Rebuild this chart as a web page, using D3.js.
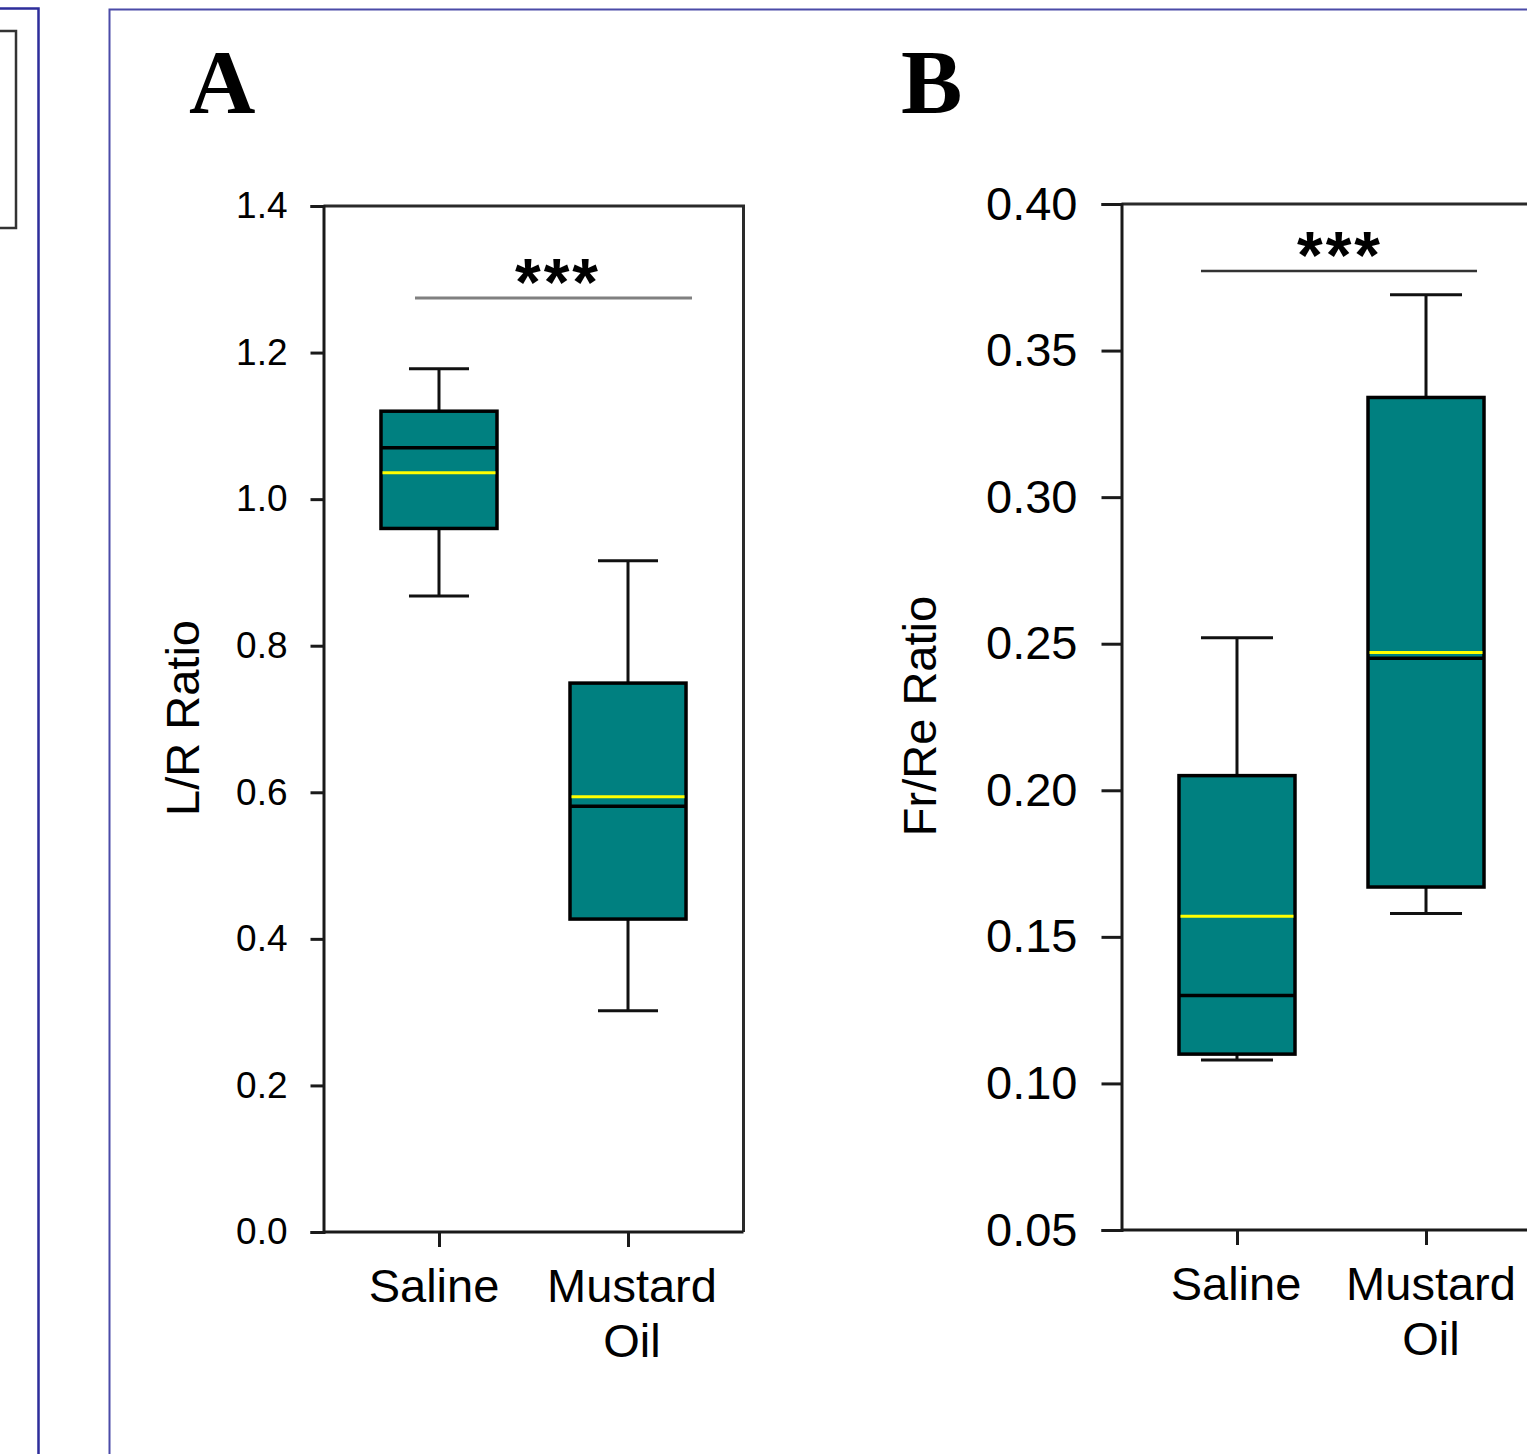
<!DOCTYPE html>
<html>
<head>
<meta charset="utf-8">
<script src="https://cdn.jsdelivr.net/npm/d3@7"></script>
<style>
  body { margin: 0; background: #fff; }
  text { font-family: "Liberation Sans", Arial, sans-serif; fill: #000; }
</style>
</head>
<body>
<div id="chartArea"></div>
<script>
// groups, shared by both panels
const groups = ["Saline", "Mustard Oil"];

// panel A: L/R ratio
const lrLow    = [0.868, 0.302];
const lrQ1     = [0.960, 0.427];
const lrMedian = [1.070, 0.581];
const lrMean   = [1.036, 0.594];
const lrQ3     = [1.120, 0.749];
const lrHigh   = [1.178, 0.916];
const lrTicks  = [0.0, 0.2, 0.4, 0.6, 0.8, 1.0, 1.2, 1.4];

// panel B: Fr/Re ratio
const frLow    = [0.108, 0.158];
const frQ1     = [0.110, 0.167];
const frMedian = [0.130, 0.245];
const frMean   = [0.157, 0.247];
const frQ3     = [0.205, 0.334];
const frHigh   = [0.252, 0.369];
const frTicks  = [0.05, 0.10, 0.15, 0.20, 0.25, 0.30, 0.35, 0.40];

const W = 1527, H = 1454;

const svg = d3.select("#chartArea")
  .append("svg")
  .attr("width", W)
  .attr("height", H);

// slide frames around the figure
svg.append("path")
  .attr("d", "M0,8.5 H38.5 V" + H)
  .attr("fill", "none").attr("stroke", "#2d2d9b").attr("stroke-width", 2.5);
svg.append("rect")
  .attr("x", -5).attr("y", 31).attr("width", 21).attr("height", 197)
  .attr("fill", "none").attr("stroke", "#333").attr("stroke-width", 2.5);
svg.append("path")
  .attr("d", "M" + W + ",9.5 H109.5 V" + H)
  .attr("fill", "none").attr("stroke", "#4b4ba8").attr("stroke-width", 2);

function rows(lo, q1, med, mean, q3, hi){
  return groups.map((g, i) => ({g, lo: lo[i], q1: q1[i], med: med[i], mean: mean[i], q3: q3[i], hi: hi[i]}));
}

function panel(opt){
  const g = svg.append("g");

  const x = d3.scalePoint()
    .domain(groups)
    .range([opt.left, opt.left + 420])
    .padding(0.611);

  const y = d3.scaleLinear()
    .domain(opt.domain)
    .range([opt.bottom, opt.top]);

  const right = opt.left + 420;
  const lw = 3;

  // frame: top and right
  g.append("path")
    .attr("d", "M" + opt.left + "," + opt.top + " H" + right + " V" + opt.bottom)
    .attr("fill", "none").attr("stroke", "#2a2a2a").attr("stroke-width", lw);

  const yAxis = g.append("g")
    .attr("transform", "translate(" + opt.left + ",0)")
    .call(d3.axisLeft(y).tickValues(opt.ticks).tickFormat(d3.format(opt.fmt))
      .tickSize(opt.tickLen).tickPadding(opt.tickPad));
  yAxis.select(".domain").attr("stroke", "#1a1a1a").attr("stroke-width", lw);
  yAxis.selectAll(".tick line").attr("stroke", "#1a1a1a").attr("stroke-width", lw);
  yAxis.selectAll(".tick text")
    .style("font-family", "Liberation Sans, Arial, sans-serif")
    .style("font-size", opt.tickFont + "px").attr("fill", "#000");

  const xAxis = g.append("g")
    .attr("transform", "translate(0," + opt.bottom + ")")
    .call(d3.axisBottom(x).tickSize(15).tickFormat(""));
  xAxis.select(".domain").attr("d", "M" + opt.left + ",0 H" + right)
    .attr("stroke", "#1a1a1a").attr("stroke-width", lw);
  xAxis.selectAll(".tick line").attr("stroke", "#1a1a1a").attr("stroke-width", lw);

  // category labels, two lines for Mustard Oil
  const labelGroups = [["Saline"], ["Mustard", "Oil"]];
  groups.forEach((grp, i) => {
    labelGroups[i].forEach((word, j) => {
      g.append("text")
        .attr("x", x(grp) + opt.labelShift[i])
        .attr("y", opt.bottom + 70 + j * 55)
        .attr("text-anchor", "middle")
        .style("font-size", "47px")
        .text(word);
    });
  });

  // y title
  g.append("text")
    .attr("transform", "translate(" + opt.titleX + "," + opt.titleY + ") rotate(-90)")
    .attr("text-anchor", "middle")
    .style("font-size", "47px")
    .text(opt.title);

  // panel letter
  g.append("text")
    .attr("x", opt.letterX).attr("y", 113)
    .style("font-family", "Liberation Serif, Times New Roman, serif")
    .style("font-weight", "bold")
    .style("font-size", "92px")
    .text(opt.letter);

  const data = opt.data;
  const bw = 116, cw = opt.capW;

  // whiskers
  g.selectAll(".whisker")
    .data(data).enter().append("line")
    .attr("x1", d => x(d.g)).attr("x2", d => x(d.g))
    .attr("y1", d => y(d.lo)).attr("y2", d => y(d.hi))
    .attr("stroke", "#111").attr("stroke-width", lw);
  g.selectAll(".capLo")
    .data(data).enter().append("line")
    .attr("x1", d => x(d.g) - cw / 2).attr("x2", d => x(d.g) + cw / 2)
    .attr("y1", d => y(d.lo)).attr("y2", d => y(d.lo))
    .attr("stroke", "#111").attr("stroke-width", lw);
  g.selectAll(".capHi")
    .data(data).enter().append("line")
    .attr("x1", d => x(d.g) - cw / 2).attr("x2", d => x(d.g) + cw / 2)
    .attr("y1", d => y(d.hi)).attr("y2", d => y(d.hi))
    .attr("stroke", "#111").attr("stroke-width", lw);

  // boxes
  g.selectAll(".box")
    .data(data).enter().append("rect")
    .attr("x", d => x(d.g) - bw / 2)
    .attr("width", bw)
    .attr("y", d => y(d.q3))
    .attr("height", d => y(d.q1) - y(d.q3))
    .attr("fill", "#008080")
    .attr("stroke", "#000").attr("stroke-width", 3.5);

  // median (black) and mean (yellow)
  g.selectAll(".median")
    .data(data).enter().append("line")
    .attr("x1", d => x(d.g) - bw / 2).attr("x2", d => x(d.g) + bw / 2)
    .attr("y1", d => y(d.med)).attr("y2", d => y(d.med))
    .attr("stroke", "#000").attr("stroke-width", 3.5);
  g.selectAll(".mean")
    .data(data).enter().append("line")
    .attr("x1", d => x(d.g) - bw / 2 + 1.5).attr("x2", d => x(d.g) + bw / 2 - 1.5)
    .attr("y1", d => y(d.mean)).attr("y2", d => y(d.mean))
    .attr("stroke", "#ffff00").attr("stroke-width", 3);

  // significance bar
  g.append("line")
    .attr("x1", x(groups[0]) + opt.sigL).attr("x2", x(groups[1]) + opt.sigR)
    .attr("y1", opt.sigY).attr("y2", opt.sigY)
    .attr("stroke", opt.sigColor).attr("stroke-width", opt.sigW);
  g.append("text")
    .attr("x", opt.starX).attr("y", opt.sigY + opt.starDy)
    .attr("text-anchor", "middle")
    .style("font-size", "66px")
    .style("font-weight", "bold")
    .style("letter-spacing", "3px")
    .text("***");
}

panel({
  letter: "A", letterX: 189,
  left: 323.5, top: 206, bottom: 1232,
  domain: [0, 1.4], ticks: lrTicks, fmt: ".1f",
  tickLen: 13, tickPad: 23, tickFont: 37,
  title: "L/R Ratio", titleX: 199, titleY: 718,
  data: rows(lrLow, lrQ1, lrMedian, lrMean, lrQ3, lrHigh),
  capW: 60, labelShift: [-5, 4],
  sigY: 298, sigL: -24, sigR: 64, sigColor: "#808080", sigW: 3,
  starX: 558, starDy: 7
});

panel({
  letter: "B", letterX: 901,
  left: 1121.5, top: 204, bottom: 1230,
  domain: [0.05, 0.40], ticks: frTicks, fmt: ".2f",
  tickLen: 20, tickPad: 24, tickFont: 47,
  title: "Fr/Re Ratio", titleX: 936, titleY: 716,
  data: rows(frLow, frQ1, frMedian, frMean, frQ3, frHigh),
  capW: 72, labelShift: [-1, 5],
  sigY: 271, sigL: -36, sigR: 51, sigColor: "#333", sigW: 2.5,
  starX: 1340, starDy: 7
});
</script>
</body>
</html>
